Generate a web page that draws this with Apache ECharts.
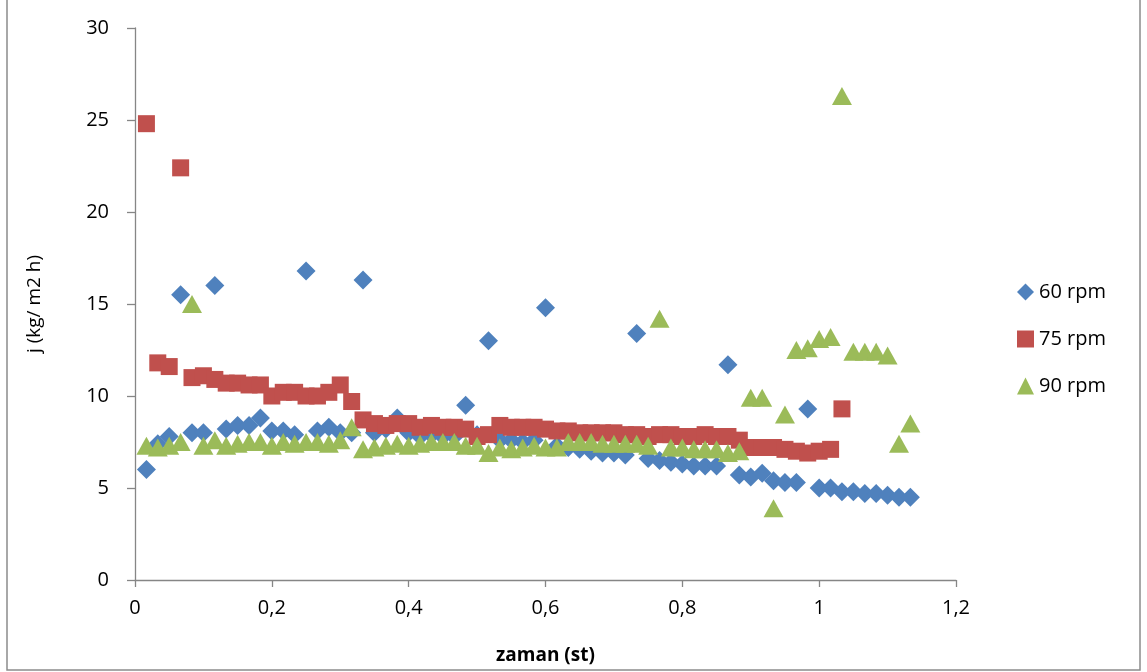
<!DOCTYPE html>
<html>
<head>
<meta charset="utf-8">
<script src="https://cdn.jsdelivr.net/npm/echarts@6/dist/echarts.min.js"></script>
<style>
  html, body { margin: 0; padding: 0; background: #fff; }
  #chart { width: 1147px; height: 672px; }
</style>
</head>
<body>
<div id="chart"></div>
<script>
// zaman (st) - olcum zamanlari
var timeSt = [
    0.0167, 0.0333, 0.05, 0.0667, 0.0833, 0.1, 0.1167, 0.1333, 0.15, 0.1667,
    0.1833, 0.2, 0.2167, 0.2333, 0.25, 0.2667, 0.2833, 0.3, 0.3167, 0.3333,
    0.35, 0.3667, 0.3833, 0.4, 0.4167, 0.4333, 0.45, 0.4667, 0.4833, 0.5,
    0.5167, 0.5333, 0.55, 0.5667, 0.5833, 0.6, 0.6167, 0.6333, 0.65, 0.6667,
    0.6833, 0.7, 0.7167, 0.7333, 0.75, 0.7667, 0.7833, 0.8, 0.8167, 0.8333,
    0.85, 0.8667, 0.8833, 0.9, 0.9167, 0.9333, 0.95, 0.9667, 0.9833, 1.0,
    1.0167, 1.0333, 1.05, 1.0667, 1.0833, 1.1, 1.1167, 1.1333
];

// j (kg/ m2 h)
var rpm60 = [
    6.0, 7.4, 7.8, 15.5, 8.0, 8.0, 16.0, 8.2, 8.4, 8.4,
    8.8, 8.1, 8.1, 7.9, 16.8, 8.1, 8.3, 8.0, 8.0, 16.3,
    8.0, 8.2, 8.8, 8.0, 7.8, 7.9, 7.8, 7.8, 9.5, 7.9,
    13.0, 7.6, 7.6, 7.5, 7.6, 14.8, 7.3, 7.2, 7.1, 7.0,
    6.9, 6.9, 6.8, 13.4, 6.6, 6.5, 6.4, 6.3, 6.2, 6.2,
    6.2, 11.7, 5.7, 5.6, 5.8, 5.4, 5.3, 5.3, 9.3, 5.0,
    5.0, 4.8, 4.8, 4.7, 4.7, 4.6, 4.5, 4.5
];
var rpm75 = [
    24.8, 11.8, 11.6, 22.4, 11.0, 11.1, 10.9, 10.7, 10.7, 10.6,
    10.6, 10.0, 10.2, 10.2, 10.0, 10.0, 10.2, 10.6, 9.7, 8.7,
    8.5, 8.4, 8.5, 8.5, 8.3, 8.4, 8.3, 8.3, 8.2, 7.8,
    7.9, 8.4, 8.3, 8.3, 8.3, 8.2, 8.1, 8.1, 8.0, 8.0,
    8.0, 8.0, 7.9, 7.9, 7.8, 7.9, 7.9, 7.8, 7.8, 7.9,
    7.8, 7.8, 7.6, 7.2, 7.2, 7.2, 7.1, 7.0, 6.9, 7.0,
    7.1, 9.3
];
var rpm90 = [
    7.3, 7.2, 7.3, 7.5, 15.0, 7.3, 7.6, 7.3, 7.4, 7.5,
    7.5, 7.3, 7.5, 7.4, 7.5, 7.5, 7.4, 7.6, 8.3, 7.1,
    7.2, 7.3, 7.4, 7.3, 7.4, 7.5, 7.5, 7.5, 7.3, 7.3,
    6.9, 7.2, 7.1, 7.2, 7.3, 7.2, 7.2, 7.5, 7.5, 7.5,
    7.4, 7.4, 7.4, 7.4, 7.3, 14.2, 7.2, 7.2, 7.1, 7.1,
    7.1, 6.9, 7.0, 9.9, 9.9, 3.9, 9.0, 12.5, 12.6, 13.1,
    13.2, 26.3, 12.4, 12.4, 12.4, 12.2, 7.4, 8.5
];

var seriesNames = ['60 rpm', '75 rpm', '90 rpm'];
var seriesColors = ['#4F81BD', '#C0504D', '#9BBB59'];
var seriesSymbols = ['diamond', 'rect', 'triangle'];

var txtFont = 'Open Sans';
var axisGray = '#868686';

function pairs(xs, ys) {
    var out = [];
    for (var i = 0; i < ys.length; i++) {
        out.push([xs[i], ys[i]]);
    }
    return out;
}

var myChart = echarts.init(document.getElementById('chart'));

var option = {
    animation: false,
    backgroundColor: '#fff',
    graphic: [
        {
            // dis cerceve
            type: 'rect',
            shape: {x: 7, y: -2, width: 1133, height: 672},
            style: {fill: 'none', stroke: '#8c8c8c', lineWidth: 1.5},
            silent: true
        }
    ],
    grid: {left: 135, right: 191, top: 28, bottom: 92},
    legend: {
        orient: 'vertical',
        left: 1012,
        top: 277,
        itemWidth: 17,
        itemHeight: 17,
        itemGap: 27,
        textStyle: {fontFamily: txtFont, fontSize: 20, color: '#000'},
        data: [
            {name: seriesNames[0], icon: 'diamond'},
            {name: seriesNames[1], icon: 'rect'},
            {name: seriesNames[2], icon: 'triangle'}
        ]
    },
    xAxis: {
        type: 'value',
        min: 0,
        max: 1.2,
        interval: 0.2,
        name: 'zaman (st)',
        nameLocation: 'middle',
        nameGap: 66,
        nameTextStyle: {fontFamily: txtFont, fontSize: 19, fontWeight: 'bold', color: '#000'},
        axisLine: {show: true, lineStyle: {color: axisGray, width: 1.3}},
        axisTick: {show: true, length: 7, lineStyle: {color: axisGray, width: 1.3}},
        splitLine: {show: false},
        axisLabel: {
            margin: 18,
            fontFamily: txtFont,
            fontSize: 20,
            color: '#000',
            formatter: function (v) {
                return String(Math.round(v * 10) / 10).replace('.', ',');
            }
        }
    },
    yAxis: {
        type: 'value',
        min: 0,
        max: 30,
        interval: 5,
        name: 'j (kg/ m2 h)',
        nameLocation: 'middle',
        nameGap: 91,
        nameRotate: 90,
        nameTextStyle: {fontFamily: txtFont, fontSize: 19, color: '#000'},
        axisLine: {show: true, lineStyle: {color: axisGray, width: 1.3}},
        axisTick: {show: true, length: 8, lineStyle: {color: axisGray, width: 1.3}},
        splitLine: {show: false},
        axisLabel: {margin: 26, fontFamily: txtFont, fontSize: 20, color: '#000'}
    },
    series: []
};

var dataList = [rpm60, rpm75, rpm90];
for (var i = 0; i < dataList.length; i++) {
    option.series.push({
        name: seriesNames[i],
        type: 'scatter',
        symbol: seriesSymbols[i],
        symbolSize: i == 2 ? [20, 18] : (i == 0 ? 19 : 17),
        itemStyle: {color: seriesColors[i], opacity: 1},
        data: pairs(timeSt, dataList[i])
    });
}

myChart.setOption(option);
</script>
</body>
</html>
